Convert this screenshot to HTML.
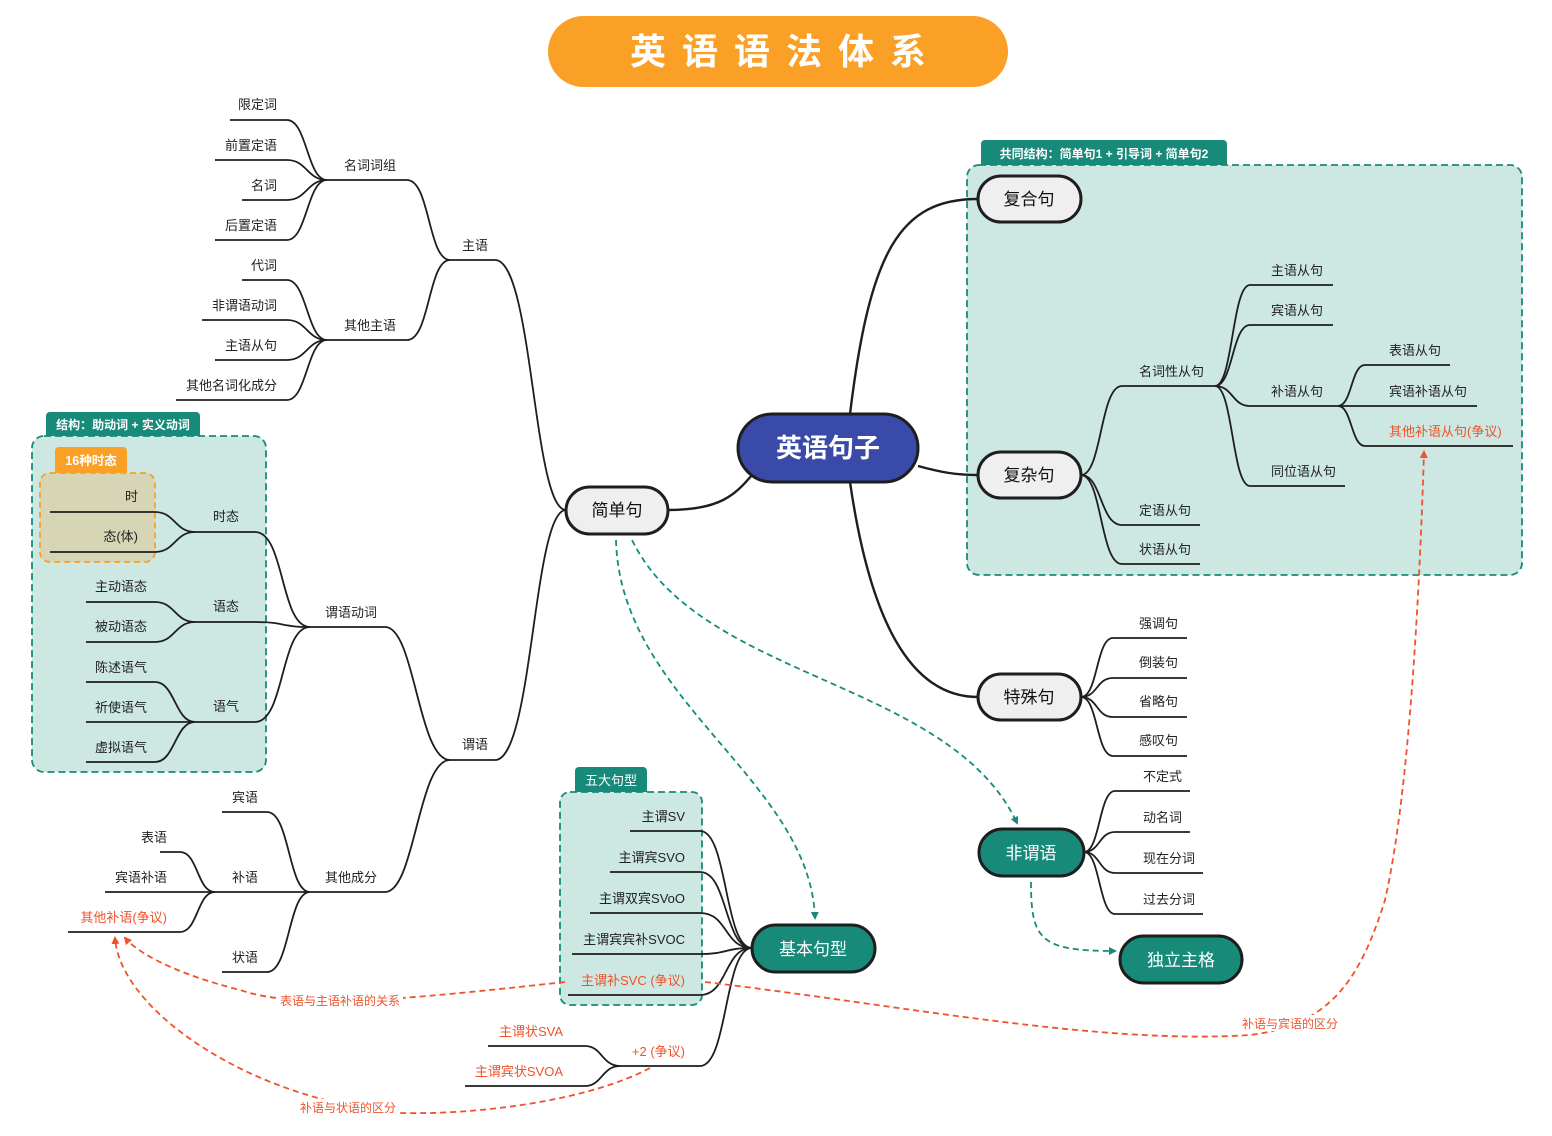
<!DOCTYPE html>
<html><head><meta charset="utf-8"><style>
html,body{margin:0;padding:0;background:#fff;}
svg{display:block;}
text{font-family:"Liberation Sans","Noto Sans CJK SC",sans-serif;}
.l{font-size:13px;fill:#222;}
.o{font-size:13px;fill:#F0522A;}
.ln{fill:none;stroke:#1e1e1e;stroke-width:1.8;}
</style></head><body>
<svg width="1552" height="1136" viewBox="0 0 1552 1136" xmlns="http://www.w3.org/2000/svg">
<defs>
<marker id="at" markerWidth="8" markerHeight="8" refX="6" refY="4" orient="auto" markerUnits="userSpaceOnUse"><path d="M0,0 L8,4 L0,8 z" fill="#178A7A"/></marker>
<marker id="ao" markerWidth="8" markerHeight="8" refX="6" refY="4" orient="auto" markerUnits="userSpaceOnUse"><path d="M0,0 L8,4 L0,8 z" fill="#F0522A"/></marker>
</defs>
<!-- title -->
<rect x="548" y="16" width="460" height="71" rx="35.5" fill="#FBA026"/>
<text x="786" y="64" text-anchor="middle" font-size="36" font-weight="bold" fill="#fff" letter-spacing="16">英语语法体系</text>

<!-- boxes -->
<rect x="32" y="436" width="234" height="336" rx="12" fill="#CDE7E3" stroke="#178A7A" stroke-width="1.8" stroke-dasharray="7,4"/>
<path d="M46,436 V416 a4,4 0 0 1 4,-4 H196 a4,4 0 0 1 4,4 V436 z" fill="#178A7A"/>
<text x="123" y="429" text-anchor="middle" font-size="12" font-weight="bold" fill="#fff">结构：助动词 + 实义动词</text>
<rect x="40" y="473" width="115" height="89" rx="10" fill="#D6D6B6" stroke="#FBA026" stroke-width="1.8" stroke-dasharray="6,4"/>
<path d="M55,473 V451 a4,4 0 0 1 4,-4 H123 a4,4 0 0 1 4,4 V473 z" fill="#FBA026"/>
<text x="91" y="465" text-anchor="middle" font-size="12.5" font-weight="bold" fill="#fff">16种时态</text>

<rect x="560" y="792" width="142" height="213" rx="10" fill="#CDE7E3" stroke="#178A7A" stroke-width="1.8" stroke-dasharray="7,4"/>
<path d="M575,792 V771 a4,4 0 0 1 4,-4 H643 a4,4 0 0 1 4,4 V792 z" fill="#178A7A"/>
<text x="611" y="785" text-anchor="middle" font-size="13" fill="#fff">五大句型</text>

<rect x="967" y="165" width="555" height="410" rx="12" fill="#CDE7E3" stroke="#178A7A" stroke-width="1.8" stroke-dasharray="7,4"/>
<path d="M981,165 V144 a4,4 0 0 1 4,-4 H1223 a4,4 0 0 1 4,4 V165 z" fill="#178A7A"/>
<text x="1104" y="158" text-anchor="middle" font-size="12" font-weight="bold" fill="#fff">共同结构：简单句1 + 引导词 + 简单句2</text>

<!-- main connectors -->
<g class="ln" style="stroke-width:2.4">
<path d="M668,510 C720,510 735,495 752,475"/>
<path d="M850,414 C870,250 900,199 978,199"/>
<path d="M918,466 C940,472 955,475 978,475"/>
<path d="M850,482 C870,620 910,697 978,697"/>
</g>

<!-- left tree -->
<g class="ln">
<path d="M495,260 C533,260 533,510 566,510"/>
<path d="M495,760 C533,760 533,510 566,510"/>
<path d="M450,260 H495"/><path d="M450,760 H495"/>
<path d="M407,180 C430,180 428,260 450,260"/>
<path d="M407,340 C430,340 428,260 450,260"/>
<path d="M327,180 H407"/><path d="M327,340 H407"/>
<path d="M230,120 H287 C307,120 307,180 327,180"/>
<path d="M215,160 H287 C307,160 307,180 327,180"/>
<path d="M242,200 H287 C307,200 307,180 327,180"/>
<path d="M215,240 H287 C307,240 307,180 327,180"/>
<path d="M242,280 H287 C307,280 307,340 327,340"/>
<path d="M202,320 H287 C307,320 307,340 327,340"/>
<path d="M215,360 H287 C307,360 307,340 327,340"/>
<path d="M176,400 H287 C307,400 307,340 327,340"/>

<path d="M310,627 H385 C415,627 418,760 450,760"/>
<path d="M310,892 H385 C415,892 418,760 450,760"/>
<path d="M195,532 H255 C285,532 280,627 310,627"/>
<path d="M195,622 H255 C285,622 280,627 310,627"/>
<path d="M195,722 H255 C285,722 280,627 310,627"/>
<path d="M50,512 H155 C175,512 175,532 195,532"/>
<path d="M50,552 H155 C175,552 175,532 195,532"/>
<path d="M86,602 H155 C175,602 175,622 195,622"/>
<path d="M86,642 H155 C175,642 175,622 195,622"/>
<path d="M86,682 H155 C175,682 175,722 195,722"/>
<path d="M86,722 H195"/>
<path d="M86,762 H155 C175,762 175,722 195,722"/>

<path d="M222,812 H267 C290,812 288,892 310,892"/>
<path d="M215,892 H310"/>
<path d="M222,972 H267 C290,972 288,892 310,892"/>
<path d="M160,852 H180 C198,852 197,892 215,892"/>
<path d="M105,892 H215"/>
<path d="M68,932 H180 C198,932 197,892 215,892"/>

<!-- basic sentences -->
<path d="M630,831 H700 C728,831 724,948 752,948"/>
<path d="M610,872 H700 C728,872 724,948 752,948"/>
<path d="M590,913 H700 C728,913 724,948 752,948"/>
<path d="M572,954 H700 C728,954 724,948 752,948"/>
<path d="M568,995 H700 C728,995 724,948 752,948"/>
<path d="M620,1066 H700 C728,1066 724,948 752,948"/>
<path d="M488,1046 H585 C602,1046 602,1066 620,1066"/>
<path d="M465,1086 H585 C602,1086 602,1066 620,1066"/>

<!-- right -->
<path d="M1081,475 C1102,475 1100,386 1122,386 H1215"/>
<path d="M1081,475 C1102,475 1100,525 1122,525 H1200"/>
<path d="M1081,475 C1102,475 1100,564 1122,564 H1200"/>
<path d="M1215,386 C1233,386 1232,285 1250,285 H1333"/>
<path d="M1215,386 C1233,386 1232,325 1250,325 H1333"/>
<path d="M1215,386 C1233,386 1232,406 1250,406 H1338"/>
<path d="M1215,386 C1233,386 1232,486 1250,486 H1345"/>
<path d="M1338,406 C1352,406 1351,365 1365,365 H1450"/>
<path d="M1338,406 H1477"/>
<path d="M1338,406 C1352,406 1351,446 1365,446 H1513"/>

<path d="M1081,697 C1098,697 1096,638 1113,638 H1187"/>
<path d="M1081,697 C1098,697 1096,678 1113,678 H1187"/>
<path d="M1081,697 C1098,697 1096,717 1113,717 H1187"/>
<path d="M1081,697 C1098,697 1096,756 1113,756 H1187"/>
<path d="M1084,852 C1100,852 1099,791 1115,791 H1190"/>
<path d="M1084,852 C1100,852 1099,832 1115,832 H1190"/>
<path d="M1084,852 C1100,852 1099,873 1115,873 H1203"/>
<path d="M1084,852 C1100,852 1099,914 1115,914 H1203"/>
</g>

<!-- dashed relations -->
<g fill="none" stroke-width="1.8" stroke-dasharray="6,4">
<path d="M616,540 C620,700 810,780 815,918" stroke="#178A7A" marker-end="url(#at)"/>
<path d="M632,540 C700,680 950,680 1017,823" stroke="#178A7A" marker-end="url(#at)"/>
<path d="M1031,882 C1031,940 1040,951 1115,951" stroke="#178A7A" marker-end="url(#at)"/>
<path d="M565,982 C400,1000 300,1010 240,990 C180,975 140,955 125,938" stroke="#F0522A" marker-end="url(#ao)"/>
<path d="M705,982 C900,1005 1100,1045 1250,1035 C1330,1025 1360,980 1385,900 C1410,790 1420,580 1424,452" stroke="#F0522A" marker-end="url(#ao)"/>
<path d="M650,1068 C590,1100 480,1115 400,1113 C250,1100 120,1010 115,938" stroke="#F0522A" marker-end="url(#ao)"/>
</g>
<g font-size="12" fill="#F0522A" text-anchor="middle">
<rect x="278" y="992" width="125" height="16" fill="#fff"/>
<text x="340" y="1005">表语与主语补语的关系</text>
<rect x="1240" y="1015" width="100" height="16" fill="#fff"/>
<text x="1290" y="1028">补语与宾语的区分</text>
<rect x="298" y="1099" width="100" height="16" fill="#fff"/>
<text x="348" y="1112">补语与状语的区分</text>
</g>

<!-- nodes -->
<g stroke="#1e1e1e" stroke-width="3">
<rect x="566" y="487" width="102" height="47" rx="23.5" fill="#EFEFEF"/>
<rect x="738" y="414" width="180" height="68" rx="34" fill="#3A4AA8"/>
<rect x="978" y="176" width="103" height="46" rx="23" fill="#EFEFEF"/>
<rect x="978" y="452" width="103" height="46" rx="23" fill="#EFEFEF"/>
<rect x="978" y="674" width="103" height="46" rx="23" fill="#EFEFEF"/>
<rect x="979" y="829" width="105" height="47" rx="23.5" fill="#178A7A"/>
<rect x="752" y="925" width="123" height="47" rx="23.5" fill="#178A7A"/>
<rect x="1120" y="936" width="122" height="47" rx="23.5" fill="#178A7A"/>
</g>
<g text-anchor="middle" font-size="17">
<text x="617" y="516" fill="#111">简单句</text>
<text x="828" y="457" font-size="26" font-weight="bold" fill="#fff">英语句子</text>
<text x="1029" y="205" fill="#111">复合句</text>
<text x="1029" y="481" fill="#111">复杂句</text>
<text x="1029" y="703" fill="#111">特殊句</text>
<text x="1031" y="859" fill="#fff">非谓语</text>
<text x="813" y="955" fill="#fff">基本句型</text>
<text x="1181" y="966" fill="#fff">独立主格</text>
</g>

<!-- left labels -->
<g class="l" text-anchor="end">
<text x="488" y="250">主语</text>
<text x="488" y="749">谓语</text>
<text x="396" y="170">名词词组</text>
<text x="396" y="330">其他主语</text>
<text x="277" y="109">限定词</text>
<text x="277" y="150">前置定语</text>
<text x="277" y="190">名词</text>
<text x="277" y="230">后置定语</text>
<text x="277" y="270">代词</text>
<text x="277" y="310">非谓语动词</text>
<text x="277" y="350">主语从句</text>
<text x="277" y="390">其他名词化成分</text>
<text x="377" y="617">谓语动词</text>
<text x="377" y="882">其他成分</text>
<text x="239" y="521">时态</text>
<text x="239" y="611">语态</text>
<text x="239" y="711">语气</text>
<text x="138" y="501">时</text>
<text x="138" y="541">态(体)</text>
<text x="147" y="591">主动语态</text>
<text x="147" y="631">被动语态</text>
<text x="147" y="672">陈述语气</text>
<text x="147" y="712">祈使语气</text>
<text x="147" y="752">虚拟语气</text>
<text x="258" y="802">宾语</text>
<text x="258" y="882">补语</text>
<text x="258" y="962">状语</text>
<text x="167" y="842">表语</text>
<text x="167" y="882">宾语补语</text>
<text class="o" x="167" y="922">其他补语(争议)</text>
<text x="685" y="821">主谓SV</text>
<text x="685" y="862">主谓宾SVO</text>
<text x="685" y="903">主谓双宾SVoO</text>
<text x="685" y="944">主谓宾宾补SVOC</text>
<text class="o" x="685" y="985">主谓补SVC (争议)</text>
<text class="o" x="685" y="1056">+2 (争议)</text>
<text class="o" x="563" y="1036">主谓状SVA</text>
<text class="o" x="563" y="1076">主谓宾状SVOA</text>
</g>
<!-- right labels -->
<g class="l">
<text x="1139" y="376">名词性从句</text>
<text x="1139" y="515">定语从句</text>
<text x="1139" y="554">状语从句</text>
<text x="1271" y="275">主语从句</text>
<text x="1271" y="315">宾语从句</text>
<text x="1271" y="396">补语从句</text>
<text x="1271" y="476">同位语从句</text>
<text x="1389" y="355">表语从句</text>
<text x="1389" y="396">宾语补语从句</text>
<text class="o" x="1389" y="436">其他补语从句(争议)</text>
<text x="1139" y="628">强调句</text>
<text x="1139" y="667">倒装句</text>
<text x="1139" y="706">省略句</text>
<text x="1139" y="745">感叹句</text>
<text x="1143" y="781">不定式</text>
<text x="1143" y="822">动名词</text>
<text x="1143" y="863">现在分词</text>
<text x="1143" y="904">过去分词</text>
</g>
</svg>
</body></html>
